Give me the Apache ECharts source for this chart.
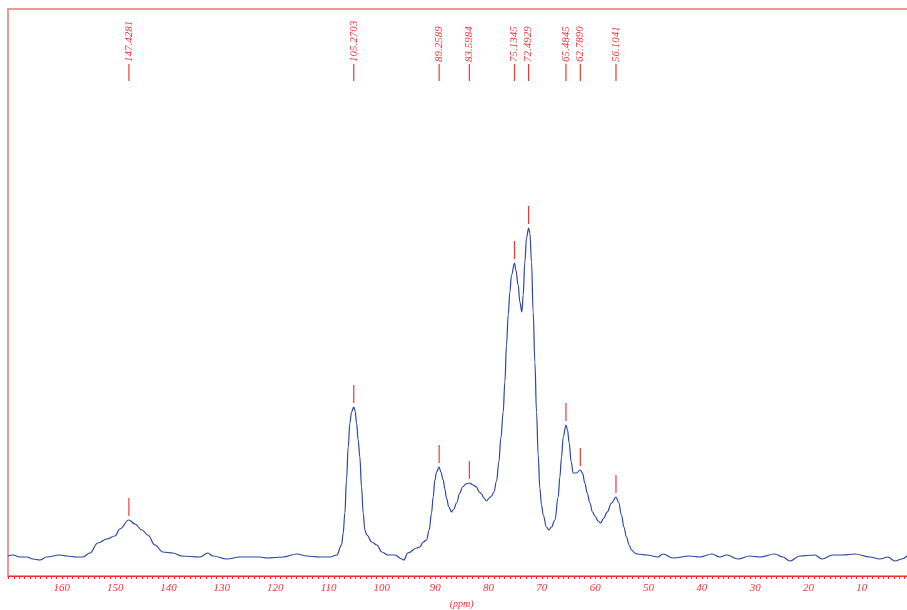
<!DOCTYPE html>
<html>
<head>
<meta charset="utf-8">
<script src="https://cdn.jsdelivr.net/npm/echarts@6/dist/echarts.min.js"></script>
<style>
html,body{margin:0;padding:0;background:#fff;}
#chart{width:907px;height:610px;}
</style>
</head>
<body>
<div id="chart"></div>
<script>
// Spectrum trace (chemical shift in ppm, intensity in arbitrary units)
var spectrumPpm = [170.13,169.19,167.88,166.56,165.44,164.13,162.81,160.38,159.06,157.19,156.06,154.75,153.25,151.56,150.06,149.13,147.43,146.31,145.0,143.88,142.56,141.06,139.19,137.5,134.13,132.63,131.69,129.06,126.63,122.88,121.56,118.56,115.94,114.06,111.63,109.75,108.44,
107.56,107.25,106.94,106.63,106.31,106.0,105.69,105.27,105.0,104.75,104.44,104.13,103.81,103.5,103.19,102.81,
101.88,100.94,100.0,98.88,97.56,96.25,95.88,95.13,93.44,
92.88,92.25,91.63,91.13,90.69,90.38,90.06,89.75,89.26,88.94,88.5,88.19,87.88,87.44,86.94,86.5,86.0,85.38,84.88,84.25,83.6,82.88,82.25,81.75,81.31,80.88,80.38,79.88,79.44,79.0,78.5,78.06,77.69,77.25,76.94,76.63,76.31,76.0,75.69,75.13,74.88,74.44,74.13,73.75,73.5,73.19,72.88,72.49,72.25,71.94,71.63,71.31,71.0,70.69,70.38,70.06,69.75,69.13,68.69,68.19,67.56,66.94,66.63,66.31,66.0,65.48,65.19,64.88,64.5,64.13,63.5,62.79,62.38,61.94,61.5,61.0,60.5,60.06,59.44,59.0,58.38,57.75,56.94,56.10,55.63,55.06,54.63,54.13,53.63,53.19,52.56,52.13,50.31,48.25,
47.31,45.44,42.25,40.38,38.13,36.63,35.31,33.25,31.0,29.13,26.31,24.81,23.5,21.63,18.81,17.5,15.44,13.56,11.31,8.5,6.63,5.13,3.81,2.5,1.56];
var spectrumIntensity = [20,21,19,19,17,16,19,21,20,19,19,23,33,37,40,47,56,52,46,41,31,24,23,20,19,23,20,17,19,19,18,19,22,20,19,19,21,
31,43,63,96,129,153,164,169,165,153,136,119,89,63,46,41,
34,31,24,21,21,17,16,23,28,
29,34,36,46,63,79,96,104,109,104,96,87,78,69,64,67,73,83,89,92,93,91,89,84,82,78,75,78,80,84,95,114,138,164,194,231,261,284,301,313,306,291,274,264,281,314,338,348,343,314,264,214,164,121,88,71,61,49,46,49,56,79,99,119,139,151,146,133,114,103,103,106,103,93,83,73,64,60,55,53,58,64,73,79,74,61,49,39,31,26,23,22,21,19,
22,18,20,19,22,19,21,17,20,19,22,19,15,20,21,17,21,21,22,19,17,19,15,17,20];

// Picked peaks
var peakPpm = [147.4281,105.2703,89.2589,83.5984,75.1345,72.4929,65.4845,62.7890,56.1041];
var peakLabels = ['147.4281','105.2703','89.2589','83.5984','75.1345','72.4929','65.4845','62.7890','56.1041'];
var peakHeights = [56,169,109,93,313,348,151,106,79];

var tickValues = [10,20,30,40,50,60,70,80,90,100,110,120,130,140,150,160];
var axisName = '(ppm)';

var chart = echarts.init(document.getElementById('chart'));
var RED = '#f0343a';
var peakData = peakPpm.map(function(p, i){ return [p, peakHeights[i], i]; });

chart.setOption({
  animation: false,
  backgroundColor: '#ffffff',
  grid: {
    left: 8, right: -8.2, top: 9, bottom: 34,
    outerBoundsMode: 'none', containLabel: false,
    show: true, borderColor: '#ee7474', borderWidth: 1.5, backgroundColor: 'transparent'
  },
  xAxis: {
    type: 'value', inverse: true, min: 0, max: 170.1, interval: 10,
    name: axisName, nameLocation: 'middle', nameGap: 23,
    nameTextStyle: { color: RED, fontFamily: 'Liberation Serif', fontStyle: 'italic', fontSize: 10 },
    axisLine: { show: true, onZero: false, lineStyle: { color: '#ff2a2a', width: 1.2 } },
    axisTick: { show: true, length: 3, lineStyle: { color: '#ff2a2a', width: 1 } },
    minorTick: { show: true, splitNumber: 10, length: 3, lineStyle: { color: '#ff2a2a', width: 1 } },
    splitLine: { show: false },
    axisLabel: {
      color: RED, fontFamily: 'Liberation Serif', fontStyle: 'italic', fontSize: 11, margin: 7,
      formatter: function(v){ return tickValues.indexOf(v) >= 0 ? String(v) : ''; }
    }
  },
  yAxis: {
    type: 'value', min: 0, max: 567, show: false
  },
  series: [
    {
      type: 'line',
      data: spectrumPpm.map(function(p, i){ return [p, spectrumIntensity[i]]; }),
      showSymbol: false,
      smooth: 0.4,
      smoothMonotone: 'x',
      lineStyle: { color: '#2d45a3', width: 1.2 },
      z: 3
    },
    {
      type: 'custom',
      data: peakData,
      z: 4,
      renderItem: function(params, api){
        var x = api.value(0), h = api.value(1), idx = api.value(2);
        var pk = api.coord([x, h]);
        var top = api.coord([x, 567]);
        return {
          type: 'group',
          children: [
            { type: 'line', shape: { x1: pk[0], y1: pk[1] - 4, x2: pk[0], y2: pk[1] - 22 },
              style: { stroke: '#f03a3a', lineWidth: 1.2 } },
            { type: 'line', shape: { x1: top[0], y1: top[1] + 55, x2: top[0], y2: top[1] + 72 },
              style: { stroke: '#f03a3a', lineWidth: 1.2 } },
            { type: 'text', x: top[0], y: top[1] + 53, rotation: Math.PI / 2,
              style: { text: peakLabels[idx], fill: RED, font: 'italic 11px "Liberation Serif"',
                       textAlign: 'left', textVerticalAlign: 'middle' } }
          ]
        };
      }
    }
  ]
});
</script>
</body>
</html>
